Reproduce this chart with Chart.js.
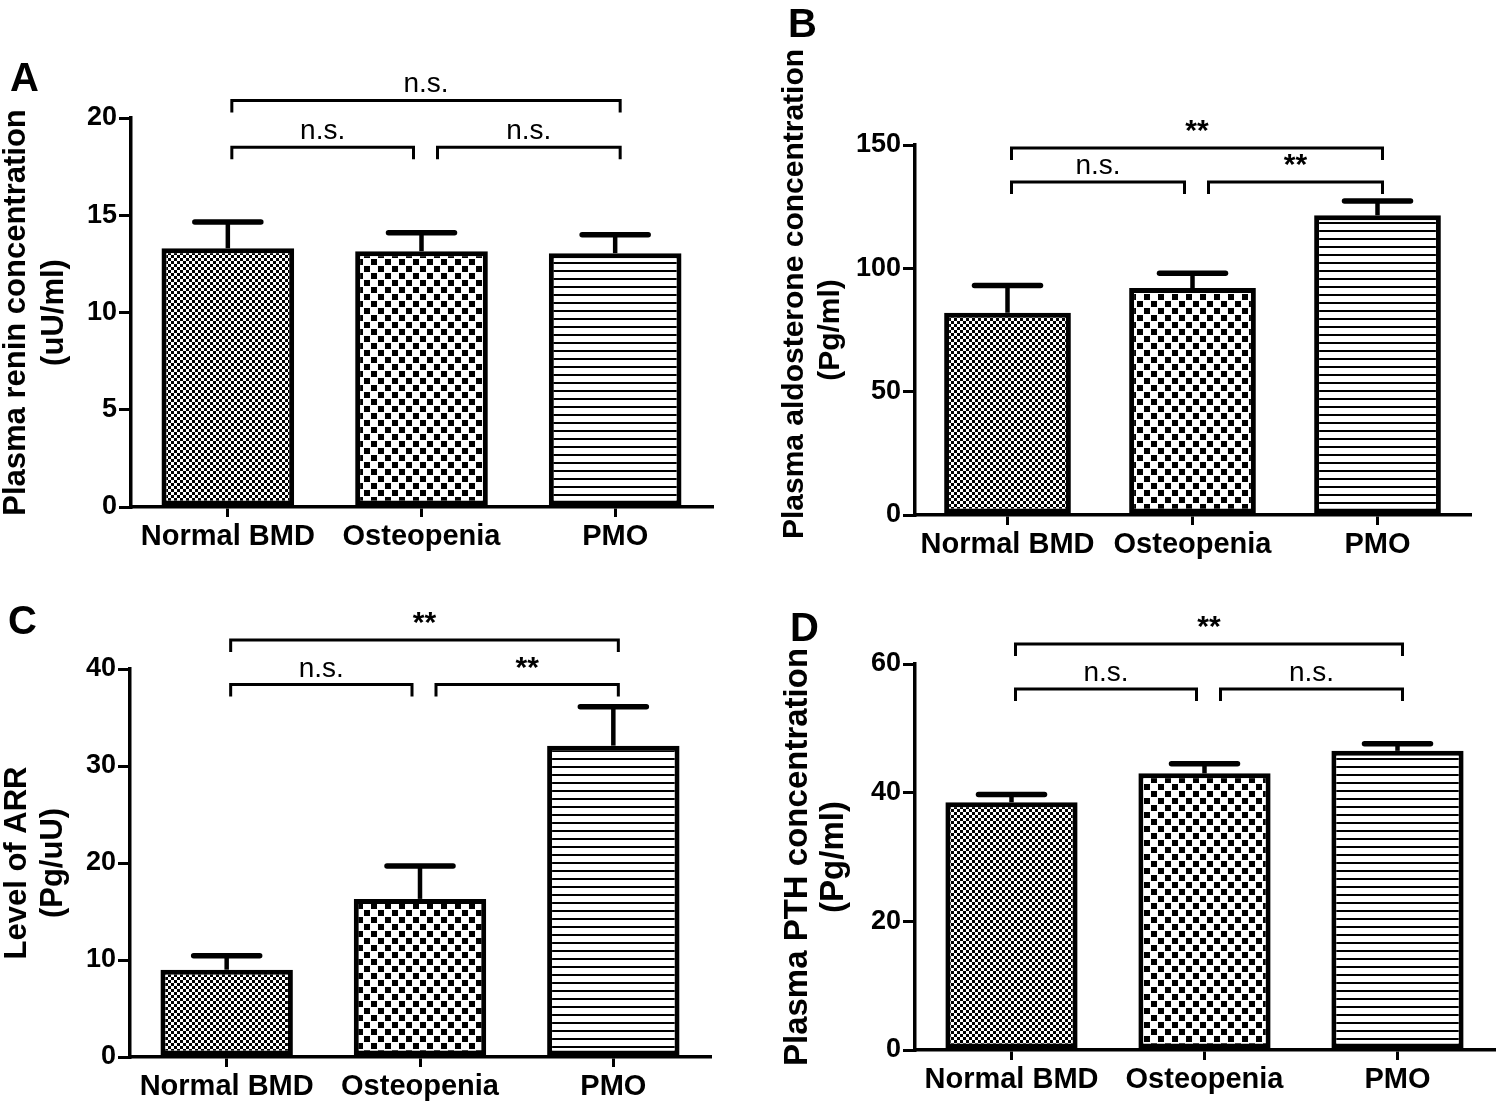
<!DOCTYPE html>
<html>
<head>
<meta charset="utf-8">
<script src="https://cdn.jsdelivr.net/npm/chart.js@4.4.1/dist/chart.umd.min.js"></script>
<style>
  body { margin: 0; background: #fff; }
  #wrap { position: relative; width: 1500px; height: 1105px; font-family: 'Liberation Sans', Arial, sans-serif; }
  canvas { position: absolute; }
  .letter { position: absolute; font-weight: bold; font-size: 40px; line-height: 1; }
</style>
</head>
<body>
<div id="wrap">
  <canvas id="chartA" width="750" height="560" style="left:0;top:0"></canvas>
  <canvas id="chartB" width="720" height="560" style="left:780px;top:0"></canvas>
  <canvas id="chartC" width="750" height="545" style="left:0;top:560px"></canvas>
  <canvas id="chartD" width="720" height="545" style="left:780px;top:560px"></canvas>
  <div class="letter" style="left:10px;top:57px">A</div>
  <div class="letter" style="left:788px;top:3px">B</div>
  <div class="letter" style="left:8px;top:600px">C</div>
  <div class="letter" style="left:790px;top:607px">D</div>
</div>
<script>
// groups
const categories = ['Normal BMD', 'Osteopenia', 'PMO'];

// A - renin
const reninMean = [13.3, 13.15, 13.05];
const reninSem = [1.35, 0.95, 0.95];
const reninTicks = [0, 5, 10, 15, 20];
const reninTitle = ['Plasma renin concentration', '(uU/ml)'];
const reninSig = ['n.s.', 'n.s.', 'n.s.'];

// B - aldosterone
const aldoMean = [82, 92, 121.5];
const aldoSem = [11, 6, 5.8];
const aldoTicks = [0, 50, 100, 150];
const aldoTitle = ['Plasma aldosterone concentration', '(Pg/ml)'];
const aldoSig = ['**', 'n.s.', '**'];

// C - ARR
const arrMean = [9.0, 16.3, 32.1];
const arrSem = [1.45, 3.4, 4.0];
const arrTicks = [0, 10, 20, 30, 40];
const arrTitle = ['Level of ARR', '(Pg/uU)'];
const arrSig = ['**', 'n.s.', '**'];

// D - PTH
const pthMean = [38.5, 43.0, 46.5];
const pthSem = [1.2, 1.5, 1.1];
const pthTicks = [0, 20, 40, 60];
const pthTitle = ['Plasma PTH concentration', '(Pg/ml)'];
const pthSig = ['**', 'n.s.', 'n.s.'];

// comparisons: [from, to, level index]
const pairs = [[0, 2, 0], [0, 1, 1], [1, 2, 1]];

const FONT = "'Liberation Sans', Arial, sans-serif";

// fill patterns
function makePattern(size, draw) {
  const c = document.createElement('canvas');
  c.width = size[0]; c.height = size[1];
  const g = c.getContext('2d');
  g.fillStyle = '#fff';
  g.fillRect(0, 0, c.width, c.height);
  g.fillStyle = '#000';
  draw(g);
  return g.createPattern(c, 'repeat');
}
const fineChecker = makePattern([6, 6], g => { g.fillRect(0, 0, 3, 3); g.fillRect(3, 3, 3, 3); });
const coarseChecker = makePattern([14, 14], g => { g.fillRect(0, 0, 6, 6); g.fillRect(7, 7, 6, 6); });
const hLines = makePattern([8, 8], g => { g.fillRect(0, 6, 8, 2); });
const fills = [fineChecker, coarseChecker, hLines];

// error bars, significance brackets, y title
const overlay = {
  id: 'overlay',
  afterDatasetsDraw(chart, args, opts) {
    const ctx = chart.ctx;
    const xs = chart.scales.x, ys = chart.scales.y;
    ctx.save();
    ctx.strokeStyle = '#000';
    ctx.fillStyle = '#000';

    opts.means.forEach((m, i) => {
      const px = xs.getPixelForValue(i);
      const top = ys.getPixelForValue(m);
      const end = ys.getPixelForValue(m + opts.sems[i]);
      ctx.lineCap = 'butt';
      ctx.lineWidth = 4.5;
      ctx.beginPath(); ctx.moveTo(px, top); ctx.lineTo(px, end); ctx.stroke();
      ctx.lineCap = 'round';
      ctx.lineWidth = 5.5;
      ctx.beginPath(); ctx.moveTo(px - 33, end); ctx.lineTo(px + 33, end); ctx.stroke();
    });

    ctx.lineCap = 'butt';
    ctx.lineJoin = 'miter';
    ctx.lineWidth = 3;
    ctx.textAlign = 'center';
    ctx.textBaseline = 'alphabetic';
    pairs.forEach(([a, b, lv], k) => {
      const x1 = xs.getPixelForValue(a) + 4 + (a === 1 ? 12 : 0);
      const x2 = xs.getPixelForValue(b) + 5 - (b === 1 ? 13 : 0);
      const yl = ys.getPixelForValue(opts.levels[lv]);
      ctx.beginPath();
      ctx.moveTo(x1, yl + 12); ctx.lineTo(x1, yl); ctx.lineTo(x2, yl); ctx.lineTo(x2, yl + 12);
      ctx.stroke();
      const lab = opts.sig[k];
      ctx.font = (lab === '**' ? 'bold 30px ' : '28px ') + FONT;
      ctx.fillText(lab, (x1 + x2) / 2, yl - 8);
    });

    // rotated two-line axis title
    const mid = (chart.chartArea.top + chart.chartArea.bottom) / 2;
    ctx.font = 'bold ' + opts.titleSize + 'px ' + FONT;
    ctx.textBaseline = 'middle';
    opts.title.forEach((t, i) => {
      const cy = opts.titleY[i] == null ? mid : opts.titleY[i];
      ctx.save();
      ctx.translate(opts.titleX[i], cy);
      ctx.rotate(-Math.PI / 2);
      ctx.fillText(t, 0, 0);
      ctx.restore();
    });
    ctx.restore();
  }
};

function makeChart(p) {
  const cv = document.getElementById(p.id);
  const h = cv.height, w = cv.width;
  return new Chart(cv, {
    type: 'bar',
    data: {
      labels: categories,
      datasets: [{
        data: p.means,
        backgroundColor: fills,
        borderColor: '#000',
        borderWidth: 5,
        borderSkipped: false,
        categoryPercentage: 1,
        barPercentage: 0.685
      }]
    },
    options: {
      responsive: false,
      animation: false,
      devicePixelRatio: 1,
      layout: { padding: { left: 0, top: p.area.top, right: w - p.area.right, bottom: 0 } },
      plugins: {
        legend: { display: false },
        tooltip: { enabled: false },
        overlay: {
          means: p.means, sems: p.sems, sig: p.sig, levels: p.levels,
          title: p.title, titleX: p.titleX, titleY: p.titleY, titleSize: p.titleSize
        }
      },
      scales: {
        x: {
          afterFit: s => { s.height = h - p.area.bottom; },
          grid: { display: true, drawOnChartArea: false, offset: false, color: '#000', lineWidth: 3, tickLength: 10 },
          border: { display: true, color: '#000', width: 3.5 },
          ticks: { color: '#000', padding: 3, font: { family: FONT, size: 29, weight: 'bold' } }
        },
        y: {
          min: 0,
          max: p.ticks[p.ticks.length - 1],
          afterFit: s => { s.width = p.area.left; },
          afterBuildTicks: s => { s.ticks = p.ticks.map(v => ({ value: v })); },
          grid: { display: true, drawOnChartArea: false, color: '#000', lineWidth: 3, tickLength: 12 },
          border: { display: true, color: '#000', width: 3.5 },
          ticks: { color: '#000', padding: 2, font: { family: FONT, size: 27, weight: 'bold' } }
        }
      }
    },
    plugins: [overlay]
  });
}

const panels = [
  { id: 'chartA', means: reninMean, sems: reninSem, ticks: reninTicks, title: reninTitle, sig: reninSig,
    levels: [20.9, 18.5], area: { left: 131, right: 712, top: 118, bottom: 507 },
    titleX: [16, 54], titleY: [null, null], titleSize: 31 },
  { id: 'chartB', means: aldoMean, sems: aldoSem, ticks: aldoTicks, title: aldoTitle, sig: aldoSig,
    levels: [148.8, 135], area: { left: 135, right: 690, top: 145, bottom: 515 },
    titleX: [15, 51], titleY: [294, 330], titleSize: 30 },
  { id: 'chartC', means: arrMean, sems: arrSem, ticks: arrTicks, title: arrTitle, sig: arrSig,
    levels: [43.0, 38.4], area: { left: 130, right: 710, top: 109, bottom: 497 },
    titleX: [17, 53], titleY: [null, null], titleSize: 31 },
  { id: 'chartD', means: pthMean, sems: pthSem, ticks: pthTicks, title: pthTitle, sig: pthSig,
    levels: [63.1, 56.1], area: { left: 135, right: 714, top: 104, bottom: 490 },
    titleX: [18, 54], titleY: [null, null], titleSize: 33 }
];

panels.forEach(makeChart);
</script>
</body>
</html>
